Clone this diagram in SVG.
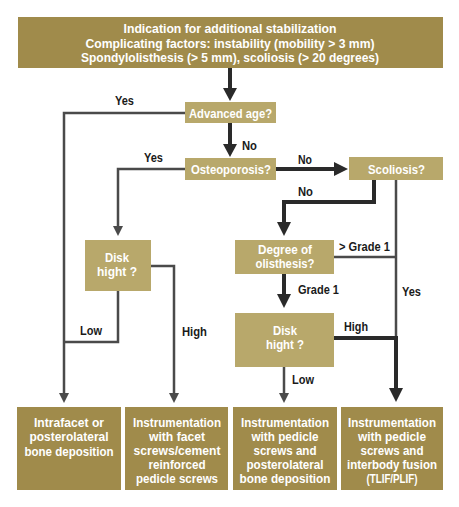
<svg xmlns="http://www.w3.org/2000/svg" width="459" height="507" viewBox="0 0 459 507">
<style>
.dark{fill:#a08b4b}
.light{fill:#b8a86b}
.t{font-family:"Liberation Sans",Arial,sans-serif;font-weight:bold;font-size:13px;fill:#fff;text-anchor:middle}
.l{font-family:"Liberation Sans",Arial,sans-serif;font-weight:bold;font-size:13.5px;fill:#1a1a1a}
.thin{stroke:#4a4a4a;stroke-width:2.5;fill:none}
.thick{stroke:#2a2a2a;stroke-width:4;fill:none}
.h1{fill:#4a4a4a}
.h2{fill:#2a2a2a}
</style>
<rect width="459" height="507" fill="#fff"/>
<g id="connectors">
  <line class="thick" x1="230" y1="68" x2="230" y2="90"/>
  <polygon class="h2" points="223,88 237,88 230,101"/>
  <polyline class="thin" points="185,113 64,113 64,394"/>
  <polygon class="h1" points="59,393 69,393 64,403"/>
  <line class="thick" x1="230" y1="123" x2="230" y2="146"/>
  <polygon class="h2" points="223,144 237,144 230,157"/>
  <polyline class="thin" points="185,169 118,169 118,227"/>
  <polygon class="h1" points="113,226 123,226 118,236"/>
  <line class="thick" x1="276" y1="169" x2="336" y2="169"/>
  <polygon class="h2" points="334,162 334,176 348,169"/>
  <polyline class="thick" points="374,180 374,202 284,202 284,224"/>
  <polygon class="h2" points="277,222 291,222 284,236"/>
  <polyline class="thin" points="396,180 396,338"/>
  <polyline class="thin" points="334,257 396,257"/>
  <polyline class="thick" points="334,338 396,338 396,390"/>
  <polygon class="h2" points="389,388 403,388 396,402"/>
  <line class="thick" x1="284" y1="274" x2="284" y2="296"/>
  <polygon class="h2" points="277,294 291,294 284,308"/>
  <line class="thin" x1="284" y1="367" x2="284" y2="394"/>
  <polygon class="h1" points="279,393 289,393 284,403"/>
  <polyline class="thin" points="151,266 174,266 174,394"/>
  <polygon class="h1" points="169,393 179,393 174,403"/>
  <polyline class="thin" points="118,291 118,342 64,342"/>
  <text class="l" x="115" y="105" textLength="19" lengthAdjust="spacingAndGlyphs">Yes</text>
  <text class="l" x="242" y="150" textLength="15" lengthAdjust="spacingAndGlyphs">No</text>
  <text class="l" x="144" y="162" textLength="19" lengthAdjust="spacingAndGlyphs">Yes</text>
  <text class="l" x="298" y="164" textLength="14" lengthAdjust="spacingAndGlyphs">No</text>
  <text class="l" x="298" y="196" textLength="15" lengthAdjust="spacingAndGlyphs">No</text>
  <text class="l" x="339" y="251" textLength="51" lengthAdjust="spacingAndGlyphs">&gt; Grade 1</text>
  <text class="l" x="298" y="294" textLength="41" lengthAdjust="spacingAndGlyphs">Grade 1</text>
  <text class="l" x="402" y="296" textLength="19" lengthAdjust="spacingAndGlyphs">Yes</text>
  <text class="l" x="80" y="335" textLength="22" lengthAdjust="spacingAndGlyphs">Low</text>
  <text class="l" x="182" y="336" textLength="25" lengthAdjust="spacingAndGlyphs">High</text>
  <text class="l" x="344" y="331" textLength="24" lengthAdjust="spacingAndGlyphs">High</text>
  <text class="l" x="292" y="384" textLength="22" lengthAdjust="spacingAndGlyphs">Low</text>
</g>
<g id="start">
  <rect class="dark" x="18" y="17" width="425" height="51"/>
  <text class="t" x="230" y="33" textLength="213" lengthAdjust="spacingAndGlyphs">Indication for additional stabilization</text>
  <text class="t" x="230" y="47.5" textLength="289" lengthAdjust="spacingAndGlyphs">Complicating factors: instability (mobility &gt; 3 mm)</text>
  <text class="t" x="230" y="62" textLength="298" lengthAdjust="spacingAndGlyphs">Spondylolisthesis (&gt; 5 mm), scoliosis (&gt; 20 degrees)</text>
</g>
<g id="advanced-age">
  <rect class="light" x="185" y="102" width="91" height="21"/>
  <text class="t" x="230.5" y="117.5" textLength="83" lengthAdjust="spacingAndGlyphs">Advanced age?</text>
</g>
<g id="osteoporosis">
  <rect class="light" x="185" y="158" width="91" height="22"/>
  <text class="t" x="231" y="174" textLength="80" lengthAdjust="spacingAndGlyphs">Osteoporosis?</text>
</g>
<g id="scoliosis">
  <rect class="light" x="349" y="157" width="94" height="23"/>
  <text class="t" x="396.5" y="174" textLength="57" lengthAdjust="spacingAndGlyphs">Scoliosis?</text>
</g>
<g id="disk-height-1">
  <rect class="light" x="85" y="240" width="66" height="51"/>
  <text class="t" x="117" y="262" textLength="24" lengthAdjust="spacingAndGlyphs">Disk</text>
  <text class="t" x="117" y="276" textLength="40" lengthAdjust="spacingAndGlyphs">hight ?</text>
</g>
<g id="olisthesis">
  <rect class="light" x="235" y="240" width="99" height="34"/>
  <text class="t" x="285" y="254" textLength="54" lengthAdjust="spacingAndGlyphs">Degree of</text>
  <text class="t" x="285" y="268" textLength="59" lengthAdjust="spacingAndGlyphs">olisthesis?</text>
</g>
<g id="disk-height-2">
  <rect class="light" x="235" y="313" width="99" height="54"/>
  <text class="t" x="285" y="335" textLength="24" lengthAdjust="spacingAndGlyphs">Disk</text>
  <text class="t" x="285" y="348.5" textLength="38" lengthAdjust="spacingAndGlyphs">hight ?</text>
</g>
<g id="result-1">
  <rect class="dark" x="17" y="407" width="104" height="83"/>
  <text class="t" x="69" y="427" textLength="70" lengthAdjust="spacingAndGlyphs">Intrafacet or</text>
  <text class="t" x="69" y="441" textLength="79" lengthAdjust="spacingAndGlyphs">posterolateral</text>
  <text class="t" x="69" y="455.5" textLength="89" lengthAdjust="spacingAndGlyphs">bone deposition</text>
</g>
<g id="result-2">
  <rect class="dark" x="125" y="407" width="103" height="83"/>
  <text class="t" x="177" y="427" textLength="88" lengthAdjust="spacingAndGlyphs">Instrumentation</text>
  <text class="t" x="177" y="441" textLength="56" lengthAdjust="spacingAndGlyphs">with facet</text>
  <text class="t" x="177" y="455" textLength="87" lengthAdjust="spacingAndGlyphs">screws/cement</text>
  <text class="t" x="177" y="469" textLength="57" lengthAdjust="spacingAndGlyphs">reinforced</text>
  <text class="t" x="177" y="482.5" textLength="82" lengthAdjust="spacingAndGlyphs">pedicle screws</text>
</g>
<g id="result-3">
  <rect class="dark" x="233" y="407" width="104" height="83"/>
  <text class="t" x="285" y="427" textLength="88" lengthAdjust="spacingAndGlyphs">Instrumentation</text>
  <text class="t" x="285" y="441" textLength="67" lengthAdjust="spacingAndGlyphs">with pedicle</text>
  <text class="t" x="285" y="455" textLength="63" lengthAdjust="spacingAndGlyphs">screws and</text>
  <text class="t" x="285" y="469" textLength="77" lengthAdjust="spacingAndGlyphs">posterolateral</text>
  <text class="t" x="285" y="482.5" textLength="91" lengthAdjust="spacingAndGlyphs">bone deposition</text>
</g>
<g id="result-4">
  <rect class="dark" x="341" y="407" width="102" height="83"/>
  <text class="t" x="392" y="427" textLength="88" lengthAdjust="spacingAndGlyphs">Instrumentation</text>
  <text class="t" x="392" y="441" textLength="68" lengthAdjust="spacingAndGlyphs">with pedicle</text>
  <text class="t" x="392" y="455" textLength="63" lengthAdjust="spacingAndGlyphs">screws and</text>
  <text class="t" x="392" y="469" textLength="90" lengthAdjust="spacingAndGlyphs">interbody fusion</text>
  <text class="t" x="392" y="482.5" textLength="51" lengthAdjust="spacingAndGlyphs">(TLIF/PLIF)</text>
</g>
</svg>
